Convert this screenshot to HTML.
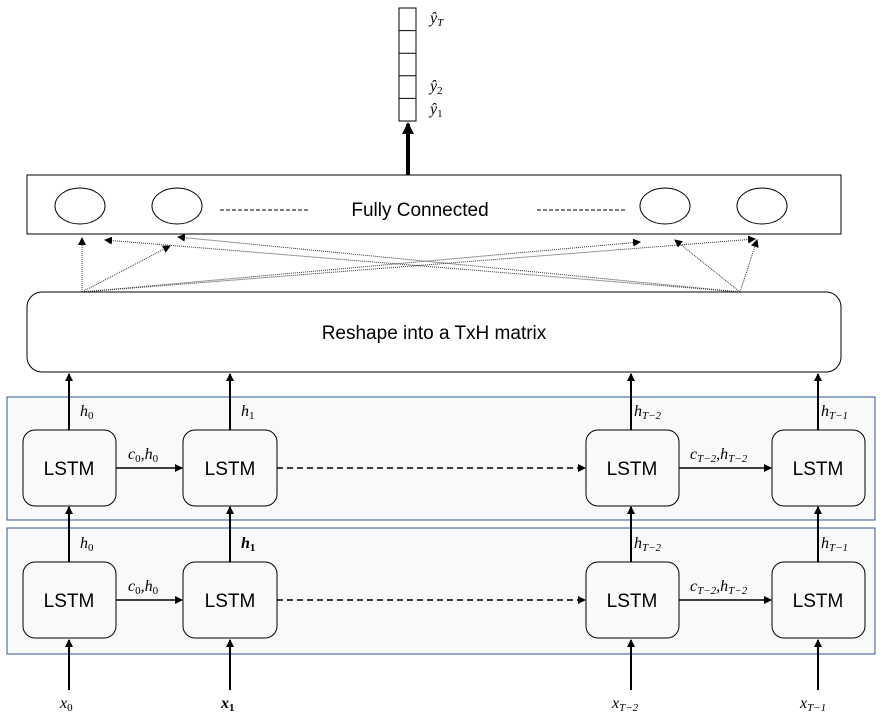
<!DOCTYPE html>
<html><head><style>body{margin:0;background:#fff}svg{display:block}</style></head><body>
<svg width="885" height="723" viewBox="0 0 885 723" xmlns="http://www.w3.org/2000/svg">
<defs>
<marker id="a" markerWidth="8" markerHeight="8" refX="7" refY="4" orient="auto" markerUnits="userSpaceOnUse"><path d="M0,0 L8,4 L0,8z" fill="#000"/></marker>
<marker id="b" markerWidth="12" markerHeight="12" refX="10" refY="6" orient="auto" markerUnits="userSpaceOnUse"><path d="M0,0 L12,6 L0,12z" fill="#000"/></marker>
</defs>
<g fill="#fff" stroke="#000" stroke-width="1">
<rect x="399" y="8" width="17" height="113"/>
<line x1="399" y1="30.6" x2="416" y2="30.6"/><line x1="399" y1="53.2" x2="416" y2="53.2"/><line x1="399" y1="75.8" x2="416" y2="75.8"/><line x1="399" y1="98.4" x2="416" y2="98.4"/>
</g>
<g font-family="'Liberation Serif',serif" font-style="italic" font-size="16">
<text x="430" y="23">ŷ<tspan font-size="11" dy="3">T</tspan></text>
<text x="430" y="91">ŷ<tspan font-size="11" dy="3" font-style="normal">2</tspan></text>
<text x="430" y="114">ŷ<tspan font-size="11" dy="3" font-style="normal">1</tspan></text>
</g>
<line x1="408" y1="175" x2="408" y2="124" stroke="#000" stroke-width="4" marker-end="url(#b)"/>
<rect x="27" y="175" width="814" height="59" fill="#fff" stroke="#000"/>
<g fill="none" stroke="#000"><ellipse cx="80" cy="206" rx="25" ry="18"/><ellipse cx="177" cy="206" rx="25" ry="18"/><ellipse cx="665" cy="206" rx="25" ry="18"/><ellipse cx="762" cy="206" rx="25" ry="18"/></g>
<g stroke="#000" stroke-dasharray="4,2"><line x1="220" y1="210" x2="308" y2="210"/><line x1="537" y1="210" x2="625" y2="210"/></g>
<text x="420" y="216" font-family="'Liberation Sans',sans-serif" font-size="19" text-anchor="middle">Fully Connected</text>
<g stroke="#333" stroke-dasharray="1,1" fill="none" marker-end="url(#a)">
<line x1="82" y1="292" x2="82" y2="238"/>
<line x1="82" y1="292" x2="170" y2="246"/>
<line x1="82" y1="292" x2="640" y2="242"/>
<line x1="82" y1="292" x2="755" y2="239"/>
<line x1="740" y1="292" x2="757" y2="240"/>
<line x1="740" y1="292" x2="675" y2="240"/>
<line x1="740" y1="292" x2="178" y2="237"/>
<line x1="740" y1="292" x2="105" y2="240"/>
</g>
<rect x="27" y="292" width="814" height="80" rx="15" fill="#fff" stroke="#000"/>
<text x="434" y="339" font-family="'Liberation Sans',sans-serif" font-size="19" text-anchor="middle">Reshape into a TxH matrix</text>
<rect x="7" y="397" width="868" height="123" fill="#f8f9fb" stroke="#2f5597"/>
<rect x="7" y="528" width="868" height="126" fill="#f8f9fb" stroke="#2f5597"/>
<g stroke="#000" stroke-width="2" marker-end="url(#a)">
<line x1="69" y1="430" x2="69" y2="374"/><line x1="230" y1="430" x2="230" y2="374"/><line x1="631" y1="430" x2="631" y2="374"/><line x1="818" y1="430" x2="818" y2="374"/>
<line x1="69" y1="562" x2="69" y2="507"/><line x1="230" y1="562" x2="230" y2="507"/><line x1="631" y1="562" x2="631" y2="507"/><line x1="818" y1="562" x2="818" y2="507"/>
<line x1="69" y1="690" x2="69" y2="640"/><line x1="230" y1="690" x2="230" y2="640"/><line x1="631" y1="690" x2="631" y2="640"/><line x1="818" y1="690" x2="818" y2="640"/>
</g>
<g stroke="#000" stroke-width="1.5" marker-end="url(#a)">
<line x1="116" y1="468" x2="182" y2="468"/><line x1="679" y1="468" x2="771" y2="468"/>
<line x1="116" y1="600" x2="182" y2="600"/><line x1="679" y1="600" x2="771" y2="600"/>
<line x1="277" y1="468" x2="585" y2="468" stroke-dasharray="6,4"/><line x1="277" y1="600" x2="585" y2="600" stroke-dasharray="6,4"/>
</g>
<g fill="#fafafa" stroke="#000">
<rect x="23" y="430" width="93" height="76" rx="12"/><rect x="183" y="430" width="94" height="76" rx="12"/><rect x="586" y="430" width="93" height="76" rx="12"/><rect x="772" y="430" width="93" height="76" rx="12"/>
<rect x="23" y="562" width="93" height="76" rx="12"/><rect x="183" y="562" width="94" height="76" rx="12"/><rect x="586" y="562" width="93" height="76" rx="12"/><rect x="772" y="562" width="93" height="76" rx="12"/>
</g>
<g font-family="'Liberation Sans',sans-serif" font-size="19" text-anchor="middle">
<text x="69" y="475">LSTM</text><text x="230" y="475">LSTM</text><text x="632" y="475">LSTM</text><text x="818" y="475">LSTM</text>
<text x="69" y="607">LSTM</text><text x="230" y="607">LSTM</text><text x="632" y="607">LSTM</text><text x="818" y="607">LSTM</text>
</g>
<g font-family="'Liberation Serif',serif" font-style="italic" font-size="16">
<text x="80" y="416">h<tspan font-size="11" dy="3" font-style="normal">0</tspan></text>
<text x="241" y="416">h<tspan font-size="11" dy="3" font-style="normal">1</tspan></text>
<text x="634" y="416">h<tspan font-size="11" dy="3">T−2</tspan></text>
<text x="821" y="416">h<tspan font-size="11" dy="3">T−1</tspan></text>
<text x="80" y="548">h<tspan font-size="11" dy="3" font-style="normal">0</tspan></text>
<text x="241" y="548" font-weight="bold">h<tspan font-size="11" dy="3" font-style="normal">1</tspan></text>
<text x="634" y="548">h<tspan font-size="11" dy="3">T−2</tspan></text>
<text x="821" y="548">h<tspan font-size="11" dy="3">T−1</tspan></text>
<text x="128" y="459">c<tspan font-size="11" dy="3" font-style="normal">0</tspan><tspan dy="-3">,h</tspan><tspan font-size="11" dy="3" font-style="normal">0</tspan></text>
<text x="128" y="591">c<tspan font-size="11" dy="3" font-style="normal">0</tspan><tspan dy="-3">,h</tspan><tspan font-size="11" dy="3" font-style="normal">0</tspan></text>
<text x="690" y="459">c<tspan font-size="11" dy="3">T−2</tspan><tspan dy="-3">,h</tspan><tspan font-size="11" dy="3">T−2</tspan></text>
<text x="690" y="591">c<tspan font-size="11" dy="3">T−2</tspan><tspan dy="-3">,h</tspan><tspan font-size="11" dy="3">T−2</tspan></text>
<text x="60" y="708">x<tspan font-size="11" dy="3" font-style="normal">0</tspan></text>
<text x="221" y="708" font-weight="bold">x<tspan font-size="11" dy="3" font-style="normal">1</tspan></text>
<text x="612" y="708">x<tspan font-size="11" dy="3">T−2</tspan></text>
<text x="800" y="708">x<tspan font-size="11" dy="3">T−1</tspan></text>
</g>
</svg>
</body></html>
